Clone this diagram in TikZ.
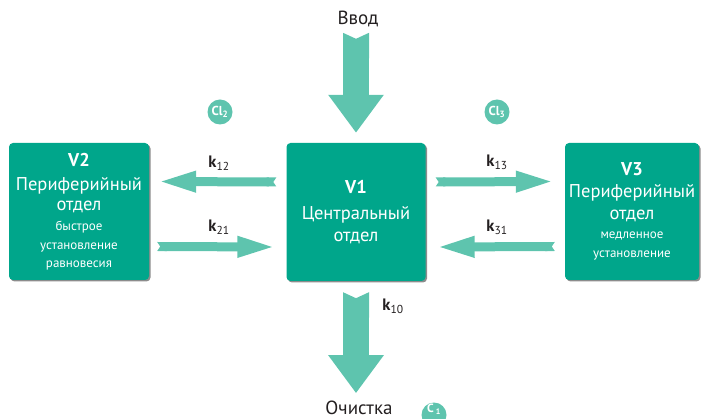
\documentclass[tikz,border=0pt]{standalone}
\usepackage{fontspec}
\setmainfont{PT Sans}
\usetikzlibrary{arrows.meta,positioning,calc,shadows}
\definecolor{boxteal}{HTML}{00A68B}
\definecolor{arrowteal}{HTML}{5EC4AE}
\definecolor{labelgray}{HTML}{231F20}

\begin{document}
\begin{tikzpicture}[x=1pt, y=-1pt,
        compartment/.style={fill=boxteal, rounded corners=4pt, text=white, align=center,
                    inner sep=0pt, font=\fontsize{18.5}{22}\selectfont,
                    drop shadow={shadow xshift=1.5pt, shadow yshift=-1.5pt, opacity=0.6, fill=black!75}},
        mainflow/.style={draw=arrowteal, line width=26pt,
                    {Triangle Cap[reversed, length=6pt]}-{Triangle[width=53pt, length=38pt]}},
        sideflow/.style={draw=arrowteal, line width=9pt,
                    {Triangle Cap[reversed, length=3pt]}-{Triangle[width=19pt, length=39pt]}},
        rate/.style={font=\fontsize{16.5}{16.5}\selectfont, text=labelgray, anchor=base},
        badge/.style={circle, fill=arrowteal, text=white, minimum size=25pt, inner sep=0pt,
                    font=\fontsize{13}{13}\selectfont\bfseries},
        badgetext/.style={text=white, inner sep=0pt, font=\fontsize{12}{12}\selectfont\bfseries},
        caption/.style={font=\fontsize{19}{19}\selectfont, text=labelgray, anchor=base}
    ]
        \useasboundingbox (0,0) rectangle (701,419);

        \node[compartment, minimum width=140pt, minimum height=137pt] (v2) at (79,211.5)
              {{\bfseries\fontsize{18.5}{18.5}\selectfont V2}\\[2pt]
              Периферийный\\[-2pt]
              отдел\\[-2pt]
              {\fontsize{13}{13}\selectfont быстрое}\\[-3pt]
              {\fontsize{13}{13}\selectfont установление}\\[-4pt]
              {\fontsize{13}{13}\selectfont равновесия}};
        \node[compartment, minimum width=139pt, minimum height=138pt] (v1) at (356,212)
              {{\bfseries\fontsize{18.5}{18.5}\selectfont V1}\\[3.5pt]
              Центральный\\
              отдел};
        \node[compartment, minimum width=134pt, minimum height=137pt] (v3) at (632,211.5)
              {{\bfseries\fontsize{18.5}{18.5}\selectfont V3}\\
              Периферийный\\
              отдел\\[-3pt]
              {\fontsize{13}{13}\selectfont медленное}\\[-3pt]
              {\fontsize{13}{13}\selectfont установление}};

        \node[caption] (input) at (358,25) {Ввод};
        \node[caption] (clearance) at (359,414) {Очистка};

        \draw[mainflow] ($(v1.north)+(0,-110)$) -- ($(v1.north)+(0,-10)$);
        \draw[mainflow] ($(v1.south)+(0,11)$) -- ($(v1.south)+(0,112)$);

        \draw[sideflow] ($(v1.west)+(-10,-30)$) -- ($(v2.east)+(8,-30)$);
        \draw[sideflow] ($(v2.east)+(8,35)$) -- ($(v1.west)+(-10,35)$);
        \draw[sideflow] ($(v1.east)+(10,-30)$) -- ($(v3.west)+(-10,-30)$);
        \draw[sideflow] ($(v3.west)+(-10,35)$) -- ($(v1.east)+(10,35)$);

        \node[rate] (k12lbl) at (219,168) {\textbf{k}\textsubscript{12}};
        \node[rate] (k21lbl) at (219,232) {\textbf{k}\textsubscript{21}};
        \node[rate] (k13lbl) at (497,167) {\textbf{k}\textsubscript{13}};
        \node[rate] (k31lbl) at (497,232) {\textbf{k}\textsubscript{31}};
        \node[rate] (k10lbl) at (393,311) {\textbf{k}\textsubscript{10}};

        \node[badge] (cl2) at (220,112) {Cl\textsubscript{2}};
        \node[badge] (cl3) at (497,112) {Cl\textsubscript{3}};
        \node[badge, label={[badgetext, yshift=6pt]center:C\,\textsubscript{1}}] (c1) at (434,415) {};
    \end{tikzpicture}
\end{document}
